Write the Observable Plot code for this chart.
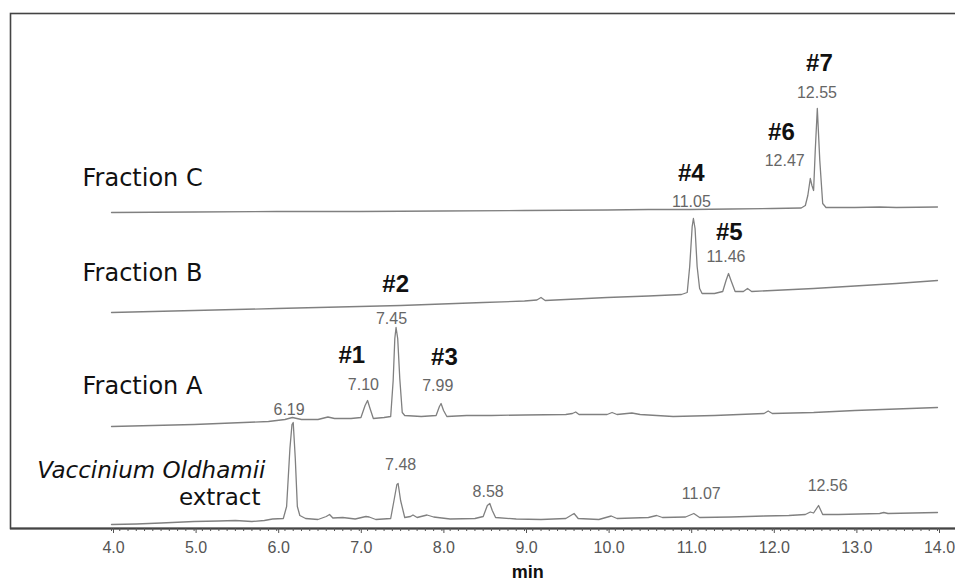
<!DOCTYPE html>
<html>
<head>
<meta charset="utf-8">
<script src="https://cdn.jsdelivr.net/npm/d3@7"></script>
<script src="https://cdn.jsdelivr.net/npm/@observablehq/plot@0.6"></script>
<style>
  html, body { margin: 0; padding: 0; background: #fff; }
  #chart svg { display: block; }
</style>
</head>
<body>
<div id="chart"></div>
<script>
// ---- Data: retention time (min) vs detector signal (arbitrary units, traces stacked) ----
const fractionC = [
  [4.0,316],[5.0,316.5],[6.0,317],[7.0,317],[8.0,317.5],[9.0,318],[10.0,318.5],[10.5,319],
  [11.0,319],[11.5,319.5],[12.0,320],[12.35,320.5],[12.40,323],[12.43,333],[12.46,350],
  [12.48,343],[12.50,338],[12.52,378],[12.545,420],[12.575,368],[12.61,325],[12.65,321],
  [13.0,321],[13.3,321.5],[13.5,321],[14.0,321.5]
];
const fractionB = [
  [4.0,216],[4.5,217],[5.0,218],[5.5,219],[6.0,220],[6.5,221],[7.0,222],[7.5,223],[8.0,224.5],
  [8.5,226],[9.0,227.5],[9.15,228.5],[9.2,231],[9.25,228],[9.5,229],[10.0,231],[10.5,232.5],
  [10.9,234],[10.97,236],[11.0,262],[11.03,302],[11.045,310],[11.065,300],[11.09,262],
  [11.12,240],[11.15,235],[11.3,235],[11.4,237],[11.44,248],[11.47,255],[11.5,248],[11.55,237],
  [11.65,237],[11.70,240],[11.75,237],[12.0,238],[12.5,240],[13.0,242.5],[13.5,245],[14.0,248]
];
const fractionA = [
  [4.0,102],[4.5,103],[5.0,104],[5.3,105],[5.6,106],[5.9,107],[6.1,109],[6.19,111],[6.3,109],
  [6.5,109],[6.62,111.5],[6.7,110],[6.9,110],[7.02,111],[7.07,123],[7.10,128],[7.13,120],
  [7.17,110],[7.30,111],[7.38,112],[7.41,148],[7.43,190],[7.445,201],[7.465,190],[7.49,150],
  [7.52,116],[7.55,113],[7.75,112],[7.93,113],[7.97,122],[7.99,125],[8.02,118],[8.06,112],
  [8.3,113],[8.6,113],[9.0,113.5],[9.5,114],[9.58,115],[9.62,116.5],[9.66,114],[10.0,114],
  [10.06,116],[10.12,114],[10.3,115.5],[10.4,114],[10.8,112],[11.3,113],[11.9,115],
  [11.95,117.5],[12.0,115],[12.5,116],[13.0,118],[13.5,119.5],[14.0,121]
];
const extract = [
  [4.0,4],[4.3,4.5],[4.6,5.5],[5.0,7],[5.3,7.5],[5.5,8],[5.7,7],[5.85,8],[5.95,9.5],[6.08,10],
  [6.12,22],[6.16,80],[6.185,104],[6.2,106],[6.225,70],[6.25,22],[6.28,13],[6.35,10],[6.5,9],
  [6.6,12],[6.64,14],[6.68,10.5],[6.8,11],[6.95,9.5],[7.08,12],[7.12,11.5],[7.2,9],[7.38,10],
  [7.42,28],[7.455,44],[7.47,45],[7.50,28],[7.55,11],[7.62,12],[7.65,13.5],[7.7,11],[7.82,13.5],
  [7.9,11.5],[8.1,9.5],[8.4,10],[8.5,12],[8.55,23],[8.58,25],[8.61,18],[8.65,11],[8.9,9.5],
  [9.2,9],[9.5,10],[9.6,15],[9.65,10],[9.9,9],[10.05,12.5],[10.12,10],[10.5,11],[10.6,13],
  [10.67,11],[10.95,11.5],[11.05,15],[11.12,11],[11.5,11.5],[11.9,12.5],[12.2,13],[12.4,14],
  [12.46,16.5],[12.5,15.5],[12.56,23],[12.61,14],[12.8,14],[13.3,15],[13.35,16],[13.4,15],[14.0,16]
];

// Axis ticks
const majorTicks = [4,5,6,7,8,9,10,11,12,13,14];
const tickLabels = ["4.0","5.0","6.0","7.0","8.0","9.0","10.0","11.0","12.0","13.0","14.0"];
const minorTicks = d3.range(40, 141).map(d => d / 10);

// Trace names and label positions
const traceLabels = [
  {text: "Fraction C", t: 3.649, h: 350.5},
  {text: "Fraction B", t: 3.649, h: 255.5},
  {text: "Fraction A", t: 3.649, h: 142}
];
const speciesLabel = [{text: "Vaccinium Oldhamii", t: 5.864, h: 57.5}];
const extractLabel = [{text: "extract", t: 5.804, h: 31}];
const peakNumbers = [
  {text: "#1", t: 6.91, h: 173},
  {text: "#2", t: 7.44, h: 244.5},
  {text: "#3", t: 8.03, h: 171.5},
  {text: "#4", t: 11.02, h: 355.5},
  {text: "#5", t: 11.48, h: 296},
  {text: "#6", t: 12.11, h: 396.5},
  {text: "#7", t: 12.57, h: 465}
];
const retentionTimes = [
  {text: "12.55", t: 12.54, h: 435.5},
  {text: "12.47", t: 12.15, h: 367.5},
  {text: "11.05", t: 11.02, h: 327},
  {text: "11.46", t: 11.44, h: 272},
  {text: "7.45", t: 7.39, h: 210},
  {text: "7.10", t: 7.05, h: 144},
  {text: "7.99", t: 7.95, h: 142.5},
  {text: "6.19", t: 6.15, h: 119},
  {text: "7.48", t: 7.50, h: 64},
  {text: "8.58", t: 8.56, h: 37},
  {text: "11.07", t: 11.14, h: 34.5},
  {text: "12.56", t: 12.67, h: 43}
];
const axisTitle = [{text: "min", t: 9.04, h: -44}];

// Build table
const traces = [
  {name: "Fraction C", points: fractionC},
  {name: "Fraction B", points: fractionB},
  {name: "Fraction A", points: fractionA},
  {name: "Extract", points: extract}
];
const rows = traces.flatMap(s => s.points.map(([t, h]) => ({series: s.name, t, h})));

const chart = Plot.plot({
  width: 955,
  height: 583,
  marginLeft: 10,
  marginRight: -3,
  marginTop: 13,
  marginBottom: 55,
  style: {background: "#fff"},
  x: {domain: [4, 14], range: [111, 937]},
  y: {domain: [0, 515], range: [528, 13], axis: null},
  marks: [
    Plot.frame({stroke: "#444", strokeWidth: 1.6}),
    Plot.ruleY([0], {stroke: "#444", strokeWidth: 2}),
    Plot.axisX(minorTicks, {tickSize: 3, tickFormat: () => "", stroke: "#555", label: null}),
    Plot.axisX(majorTicks, {
      tickSize: 5, tickPadding: 8, tickFormat: (d, i) => tickLabels[i],
      fontSize: 16, fontFamily: "Liberation Sans, Arial, sans-serif",
      color: "#555", dx: 2, label: null
    }),
    Plot.line(rows, {x: "t", y: "h", z: "series", stroke: "#808080", strokeWidth: 1.3}),
    Plot.text(traceLabels, {
      x: "t", y: "h", text: "text", textAnchor: "start",
      fontSize: 24, fontFamily: "DejaVu Sans, sans-serif", fill: "#111"
    }),
    Plot.text(speciesLabel, {
      x: "t", y: "h", text: "text", textAnchor: "end", fontStyle: "italic",
      fontSize: 23, fontFamily: "DejaVu Sans, sans-serif", fill: "#111"
    }),
    Plot.text(extractLabel, {
      x: "t", y: "h", text: "text", textAnchor: "end",
      fontSize: 23, fontFamily: "DejaVu Sans, sans-serif", fill: "#111"
    }),
    Plot.text(peakNumbers, {
      x: "t", y: "h", text: "text",
      fontSize: 24, fontWeight: "bold", fontFamily: "Liberation Sans, Arial, sans-serif", fill: "#111"
    }),
    Plot.text(retentionTimes, {
      x: "t", y: "h", text: "text",
      fontSize: 16, fontFamily: "Liberation Sans, Arial, sans-serif", fill: "#666"
    }),
    Plot.text(axisTitle, {
      x: "t", y: "h", text: "text",
      fontSize: 18, fontWeight: "bold", fontFamily: "Liberation Sans, Arial, sans-serif", fill: "#111"
    })
  ]
});
document.getElementById("chart").appendChild(chart);
</script>
</body>
</html>
